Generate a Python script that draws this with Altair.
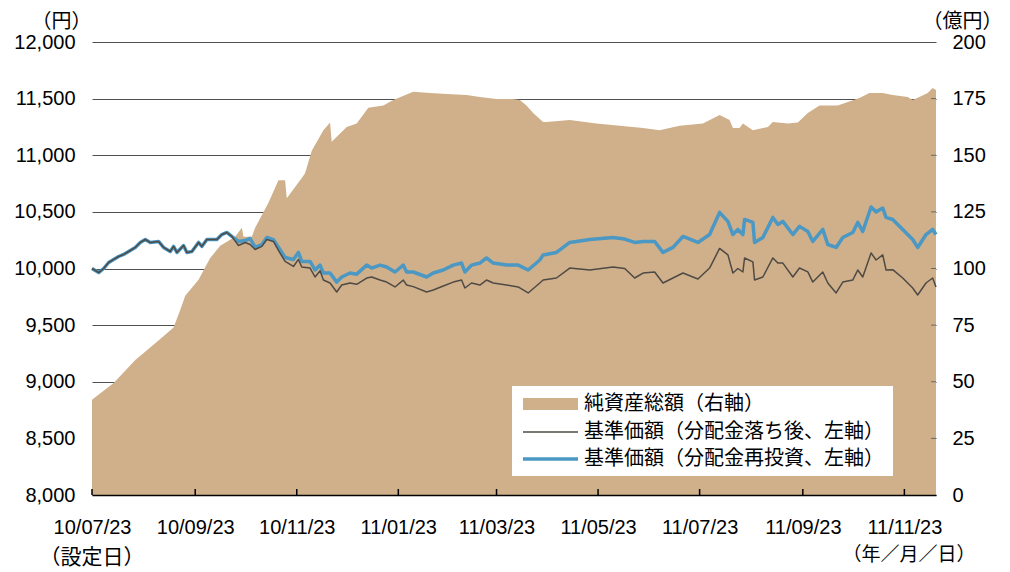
import altair as alt
import pandas as pd

# ---------------- data ----------------
nav_dates = [
    "2010-07-23", "2010-08-05", "2010-08-18", "2010-08-30", "2010-09-10", "2010-09-14",
    "2010-09-17", "2010-09-25", "2010-09-29", "2010-10-02", "2010-10-08", "2010-10-17",
    "2010-10-21", "2010-10-22", "2010-10-27", "2010-10-29", "2010-11-06", "2010-11-12",
    "2010-11-16", "2010-11-17", "2010-11-26", "2010-11-28", "2010-12-02", "2010-12-09",
    "2010-12-13", "2010-12-14", "2010-12-23", "2010-12-29", "2011-01-05", "2011-01-14",
    "2011-01-20", "2011-02-01", "2011-02-11", "2011-02-21", "2011-03-05", "2011-03-13",
    "2011-03-23", "2011-04-02", "2011-04-06", "2011-04-10", "2011-04-14", "2011-04-20",
    "2011-04-22", "2011-05-06", "2011-05-22", "2011-06-05", "2011-06-19", "2011-06-29",
    "2011-07-11", "2011-07-25", "2011-08-04", "2011-08-10", "2011-08-12", "2011-08-16",
    "2011-08-18", "2011-08-24", "2011-09-02", "2011-09-05", "2011-09-14", "2011-09-20",
    "2011-09-26", "2011-10-03", "2011-10-14", "2011-10-20", "2011-10-27", "2011-11-02",
    "2011-11-10", "2011-11-16", "2011-11-25", "2011-11-28", "2011-12-02", "2011-12-07",
    "2011-12-10", "2011-12-12",
]
nav_values = [
    42.0, 49.4, 59.6, 67.0, 74.0, 81.7,
    88.0, 95.0, 100.6, 104.6, 110.0, 114.0,
    118.0, 114.0, 114.0, 118.0, 129.0, 139.0,
    139.0, 131.0, 140.0, 142.0, 152.0, 161.0,
    164.5, 156.0, 162.5, 164.0, 171.0, 172.0,
    174.4, 178.0, 177.5, 177.0, 176.6, 175.7,
    174.8, 174.8, 174.4, 172.0, 168.6, 164.7,
    164.7, 165.6, 164.0, 163.0, 162.0, 161.0,
    163.0, 164.0, 167.8, 165.6, 162.0, 162.0,
    164.0, 161.0, 162.5, 164.7, 164.0, 164.5,
    168.6, 172.0, 172.0, 173.5, 175.3, 177.5,
    177.5, 176.6, 175.7, 174.4, 175.7, 177.5,
    179.7, 178.8,
]

line_dates = [
    "2010-07-23", "2010-07-27", "2010-07-30", "2010-08-02", "2010-08-05", "2010-08-08",
    "2010-08-11", "2010-08-14", "2010-08-18", "2010-08-21", "2010-08-24", "2010-08-27",
    "2010-09-01", "2010-09-04", "2010-09-08", "2010-09-10", "2010-09-12", "2010-09-16",
    "2010-09-18", "2010-09-21", "2010-09-25", "2010-09-27", "2010-09-30", "2010-10-06",
    "2010-10-09", "2010-10-12", "2010-10-15",
    "2010-10-19", "2010-10-23", "2010-10-26", "2010-10-29", "2010-11-02", "2010-11-05",
    "2010-11-09", "2010-11-12", "2010-11-16", "2010-11-21", "2010-11-24", "2010-11-26",
    "2010-12-01", "2010-12-04", "2010-12-07", "2010-12-09", "2010-12-13", "2010-12-17",
    "2010-12-20", "2010-12-25", "2010-12-29", "2011-01-04", "2011-01-07", "2011-01-12",
    "2011-01-16", "2011-01-21", "2011-01-26", "2011-01-28", "2011-02-01", "2011-02-09",
    "2011-02-13", "2011-02-19", "2011-02-25", "2011-03-02", "2011-03-04", "2011-03-08",
    "2011-03-13", "2011-03-17", "2011-03-21", "2011-03-29", "2011-04-05", "2011-04-11",
    "2011-04-18", "2011-04-20", "2011-04-28", "2011-05-06", "2011-05-18", "2011-06-01",
    "2011-06-08", "2011-06-14", "2011-06-19", "2011-06-26", "2011-07-01", "2011-07-07",
    "2011-07-13", "2011-07-22", "2011-07-29", "2011-08-04", "2011-08-09", "2011-08-12",
    "2011-08-15", "2011-08-18", "2011-08-19", "2011-08-24", "2011-08-25", "2011-08-30",
    "2011-09-05", "2011-09-08", "2011-09-11", "2011-09-17", "2011-09-21", "2011-09-26",
    "2011-09-29", "2011-10-05", "2011-10-08", "2011-10-13", "2011-10-17", "2011-10-23",
    "2011-10-26", "2011-10-29", "2011-11-03", "2011-11-06", "2011-11-10", "2011-11-12",
    "2011-11-16", "2011-11-22", "2011-11-28", "2011-12-01", "2011-12-06", "2011-12-10",
    "2011-12-12",
]
price_after_dist = [
    10000, 9964, 10000, 10053, 10080, 10106,
    10124, 10150, 10186, 10230, 10256, 10230,
    10239, 10186, 10150, 10195, 10142, 10203,
    10142, 10150, 10230, 10195, 10256, 10256,
    10300, 10318, 10283,
    10203, 10230, 10212, 10168, 10195, 10256,
    10239, 10160, 10062, 10018, 10080, 10013,
    10004, 9925, 9980, 9898, 9872, 9792,
    9854, 9872, 9860, 9916, 9925, 9898,
    9880, 9837, 9898, 9854, 9840, 9792,
    9810, 9845, 9880, 9898, 9828, 9872,
    9854, 9898, 9872, 9854, 9837, 9784,
    9872, 9898, 9916, 10004, 9987, 10013,
    10000, 9916, 9960, 9969, 9872, 9916,
    9960, 9907, 10004, 10177, 10120, 9960,
    10000, 9969, 10093, 10058, 9898, 9925,
    10093, 10048, 10048, 9925, 10004, 9970,
    9880, 9969, 9872, 9784, 9880, 9898,
    9987, 9925, 10137, 10075, 10120, 9987,
    9990, 9916, 9828, 9766, 9872, 9916,
    9837,
]
price_reinvested = [
    10000, 9964, 10000, 10053, 10080, 10106,
    10124, 10150, 10186, 10230, 10256, 10230,
    10239, 10186, 10150, 10195, 10142, 10203,
    10142, 10150, 10230, 10195, 10256, 10256,
    10300, 10318, 10283,
    10239, 10247, 10265, 10186, 10210, 10274,
    10255, 10188, 10097, 10080, 10142, 10062,
    10062, 9987, 10030, 9960, 9960, 9880,
    9925, 9960, 9950, 10030, 10004, 10030,
    10013, 9969, 10030, 9969, 9969, 9925,
    9960, 9987, 10030, 10048, 9969, 10030,
    10048, 10093, 10048, 10030, 10030, 9987,
    10075, 10120, 10142, 10230, 10256, 10274,
    10260, 10230, 10239, 10239, 10142, 10186,
    10283, 10230, 10300, 10495, 10416, 10300,
    10345, 10300, 10433, 10407, 10230, 10274,
    10451, 10389, 10416, 10300, 10372, 10327,
    10239, 10345, 10212, 10186, 10274, 10318,
    10407, 10327, 10543, 10500, 10534, 10451,
    10433, 10345, 10256, 10186, 10300, 10345,
    10300,
]

tick_dates = ["2010-07-23", "2010-09-23", "2010-11-23", "2011-01-23", "2011-03-23",
              "2011-05-23", "2011-07-23", "2011-09-23", "2011-11-23"]
left_ticks = [8000, 8500, 9000, 9500, 10000, 10500, 11000, 11500, 12000]
right_ticks = [0, 25, 50, 75, 100, 125, 150, 175, 200]
legend_labels = ["純資産総額（右軸）", "基準価額（分配金落ち後、左軸）", "基準価額（分配金再投資、左軸）"]
left_unit = "（円）"
right_unit = "（億円）"
start_note = "（設定日）"
date_note = "（年／月／日）"

# ---------------- tables ----------------
nav_df = pd.DataFrame({"date": pd.to_datetime(nav_dates), "nav": nav_values})
line_df = pd.DataFrame({"date": pd.to_datetime(line_dates),
                        "after": price_after_dist, "reinv": price_reinvested})
tick_df = pd.DataFrame({"date": pd.to_datetime(tick_dates)})
rtick_df = pd.DataFrame({"v": right_ticks[1:-1]})

# ---------------- style ----------------
W, H = 844, 453
TAN = "#CFB08A"
BLUE = "#4A98C3"
GRAY = "#4F4A45"
NUM_FONT = "Liberation Sans"
JP_FONT = "Noto Sans CJK JP"
UNIT_FONT = "Liberation Sans, Noto Sans CJK JP"

x_scale = alt.Scale(domain=[alt.DateTime(year=2010, month=7, date=23),
                            alt.DateTime(year=2011, month=12, date=12)], nice=False)
x_axis = alt.Axis(
    values=[alt.DateTime(year=int(d[:4]), month=int(d[5:7]), date=int(d[8:])) for d in tick_dates],
    format="%y/%m/%d", title=None, ticks=False, grid=False,
    domain=True, domainColor="black", domainWidth=1.5,
    labelFont=NUM_FONT, labelFontSize=20, labelColor="black", labelPadding=22,
    labelOverlap=False, labelFlush=False, labelBound=False, zindex=1,
)
xenc = alt.X("date:T", scale=x_scale, axis=x_axis)

right_axis = alt.Axis(
    orient="right", values=right_ticks, grid=False, domain=False, ticks=False,
    labelFont=NUM_FONT, labelFontSize=20, labelColor="black", labelPadding=16,
    title=right_unit, titleAngle=0, titleX=26, titleY=-21, titleAlign="center",
    titleBaseline="middle", titleFont=UNIT_FONT, titleFontSize=20, titleFontWeight="normal",
    titleColor="black",
)
left_axis = alt.Axis(
    orient="left", values=left_ticks, format=",d", grid=True, gridColor="#505050",
    gridWidth=1, domain=False, ticks=False,
    labelFont=NUM_FONT, labelFontSize=20, labelColor="black", labelPadding=17,
    title=left_unit, titleAngle=0, titleX=-31, titleY=-21, titleAlign="center",
    titleBaseline="middle", titleFont=UNIT_FONT, titleFontSize=20, titleFontWeight="normal",
    titleColor="black",
)

# ---------------- right-axis layer ----------------
area = alt.Chart(nav_df).mark_area(color=TAN, opacity=1).encode(
    x=xenc,
    y=alt.Y("nav:Q", scale=alt.Scale(domain=[0, 200], nice=False), axis=right_axis),
)
rticks = alt.Chart(rtick_df).mark_rule(color="#666666", strokeWidth=1).encode(
    y=alt.Y("v:Q"), x=alt.value(W - 5), x2=alt.value(W),
)
right_layer = alt.layer(area, rticks)

# ---------------- left-axis layer ----------------
yl = alt.Scale(domain=[8000, 12000], nice=False)
blue_line = alt.Chart(line_df).mark_line(color=BLUE, strokeWidth=3.5, strokeJoin="round").encode(
    x=xenc, y=alt.Y("reinv:Q", scale=yl, axis=left_axis),
)
gray_line = alt.Chart(line_df).mark_line(color=GRAY, strokeWidth=1.5, strokeJoin="round").encode(
    x=xenc, y=alt.Y("after:Q", scale=yl, axis=left_axis),
)
xticks = alt.Chart(tick_df).mark_rule(color="black", strokeWidth=1.5).encode(
    x=xenc, y=alt.value(H - 6), y2=alt.value(H),
)
left_layer = alt.layer(blue_line, gray_line, xticks)

# ---------------- legend & notes ----------------
one = pd.DataFrame({"k": [0]})
leg_box = alt.Chart(one).mark_rect(color="white").encode(
    x=alt.value(420), x2=alt.value(801), y=alt.value(344), y2=alt.value(434))
leg_sw = alt.Chart(one).mark_rect(color=TAN).encode(
    x=alt.value(431), x2=alt.value(486), y=alt.value(356), y2=alt.value(368))
leg_g = alt.Chart(one).mark_rule(color=GRAY, strokeWidth=1.5).encode(
    x=alt.value(431), x2=alt.value(486), y=alt.value(390))
leg_b = alt.Chart(one).mark_rule(color=BLUE, strokeWidth=3.5).encode(
    x=alt.value(431), x2=alt.value(486), y=alt.value(417))

def label(text, x, y, align="left", size=20):
    return alt.Chart(one).mark_text(
        text=text, font=JP_FONT, fontSize=size, color="black", align=align, baseline="middle"
    ).encode(x=alt.value(x), y=alt.value(y))

notes = alt.layer(
    leg_box, leg_sw, leg_g, leg_b,
    label(legend_labels[0], 492, 362),
    label(legend_labels[1], 492, 390),
    label(legend_labels[2], 492, 417),
    label(start_note, 0, 516, "center", 21),
    label(date_note, 817, 513, "center", 19),
)

chart = alt.layer(right_layer, left_layer, notes).resolve_scale(y="independent").properties(
    width=W, height=H,
    autosize=alt.AutoSizeParams(type="none"),
    padding={"left": 84, "top": 34, "right": 66, "bottom": 75},
    background="white",
).configure_view(stroke=None)

chart.save("out.html", embed_options={"renderer": "svg", "actions": False})
